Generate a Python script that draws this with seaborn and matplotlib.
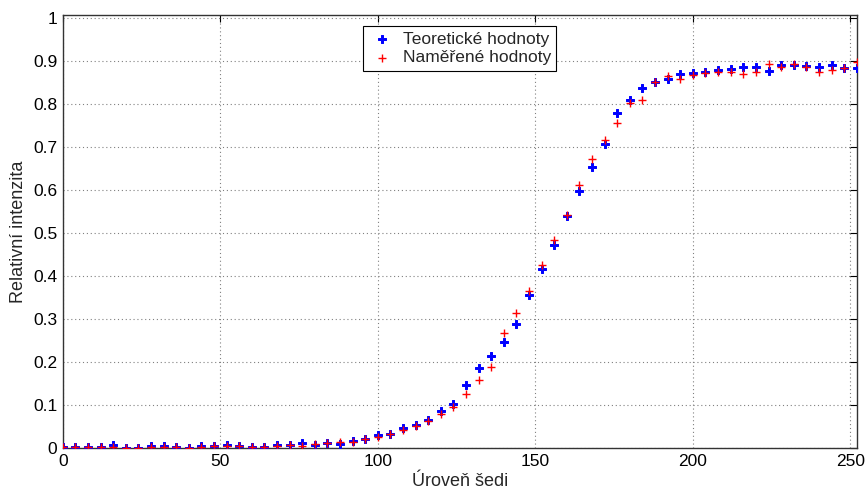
import numpy as np
import pandas as pd
import matplotlib
matplotlib.use("Agg")
import matplotlib.pyplot as plt
import seaborn as sns

# Gray levels sampled every 4 steps
gray_levels = list(range(0, 253, 4))

theoretical = [
    0.004, 0.002, 0.002, 0.002, 0.008, 0.0015, 0.0015, 0.006, 0.005, 0.002,
    0.0015, 0.0045, 0.006, 0.007, 0.006, 0.002, 0.004, 0.007, 0.0085, 0.012,
    0.008, 0.0115, 0.0095, 0.016, 0.021, 0.031, 0.033, 0.047, 0.053, 0.065,
    0.086, 0.102, 0.148, 0.187, 0.215, 0.247, 0.290, 0.357, 0.418, 0.474,
    0.540, 0.599, 0.654, 0.708, 0.781, 0.811, 0.839, 0.853, 0.860, 0.871,
    0.874, 0.875, 0.880, 0.882, 0.886, 0.887, 0.877, 0.892, 0.892, 0.889,
    0.887, 0.891, 0.885, 0.885,
]

measured = [
    0.002, 0.002, 0.002, 0.002, 0.004, 0.0015, 0.0015, 0.004, 0.004, 0.002,
    0.0015, 0.003, 0.0045, 0.0045, 0.0045, 0.004, 0.004, 0.006, 0.007, 0.006,
    0.009, 0.012, 0.014, 0.015, 0.022, 0.026, 0.0325, 0.042, 0.051, 0.064,
    0.079, 0.097, 0.1255, 0.158, 0.188, 0.268, 0.314, 0.367, 0.426, 0.484,
    0.542, 0.612, 0.673, 0.718, 0.756, 0.803, 0.810, 0.851, 0.867, 0.859,
    0.869, 0.874, 0.875, 0.875, 0.871, 0.876, 0.893, 0.887, 0.893, 0.887,
    0.876, 0.881, 0.885, 0.899,
]

df = pd.DataFrame({
    "x": gray_levels,
    "teor": theoretical,
    "mer": measured,
})

sns.set_style("white")
plt.rcParams["font.family"] = ["Liberation Sans", "DejaVu Sans"]

fig = plt.figure(figsize=(8.66, 4.91), dpi=100)
ax = fig.add_axes([0.0724, 0.087, 0.9169, 0.883])

sns.scatterplot(data=df, x="x", y="teor", ax=ax, marker="P", s=28,
                color="blue", edgecolor="blue", linewidth=0.7,
                label="Teoretické hodnoty", zorder=3)
sns.scatterplot(data=df, x="x", y="mer", ax=ax, marker="+", s=40,
                color="red", linewidth=1.0,
                label="Naměřené hodnoty", zorder=4)

ax.set_xlim(0, 252)
ax.set_ylim(0, 1.0085)
ax.set_xticks([0, 50, 100, 150, 200, 250])
ax.set_yticks(np.round(np.arange(0, 1.01, 0.1), 1))
ax.set_yticklabels(["0", "0.1", "0.2", "0.3", "0.4", "0.5", "0.6", "0.7",
                    "0.8", "0.9", "1"])

ax.grid(True, linestyle=(0, (1, 2.5)), color="#808080", linewidth=0.8)
ax.tick_params(direction="in", length=5, width=0.8, top=True, right=True,
               labelsize=12.5, colors="black", pad=4)
for side in ["left", "bottom", "top", "right"]:
    ax.spines[side].set_color("#333333")
    ax.spines[side].set_linewidth(1.0)

ax.set_xlabel("Úroveň šedi", fontsize=13, labelpad=3)
ax.set_ylabel("Relativní intenzita", fontsize=13, labelpad=4)

leg = ax.legend(loc="upper center", bbox_to_anchor=(0.5, 0.993),
                frameon=True, fancybox=False, framealpha=1,
                edgecolor="black", fontsize=12.5, handletextpad=0.4,
                borderpad=0.3, labelspacing=0.2, handlelength=1.6)
leg.get_frame().set_linewidth(0.8)

fig.savefig("out.png", dpi=100)
